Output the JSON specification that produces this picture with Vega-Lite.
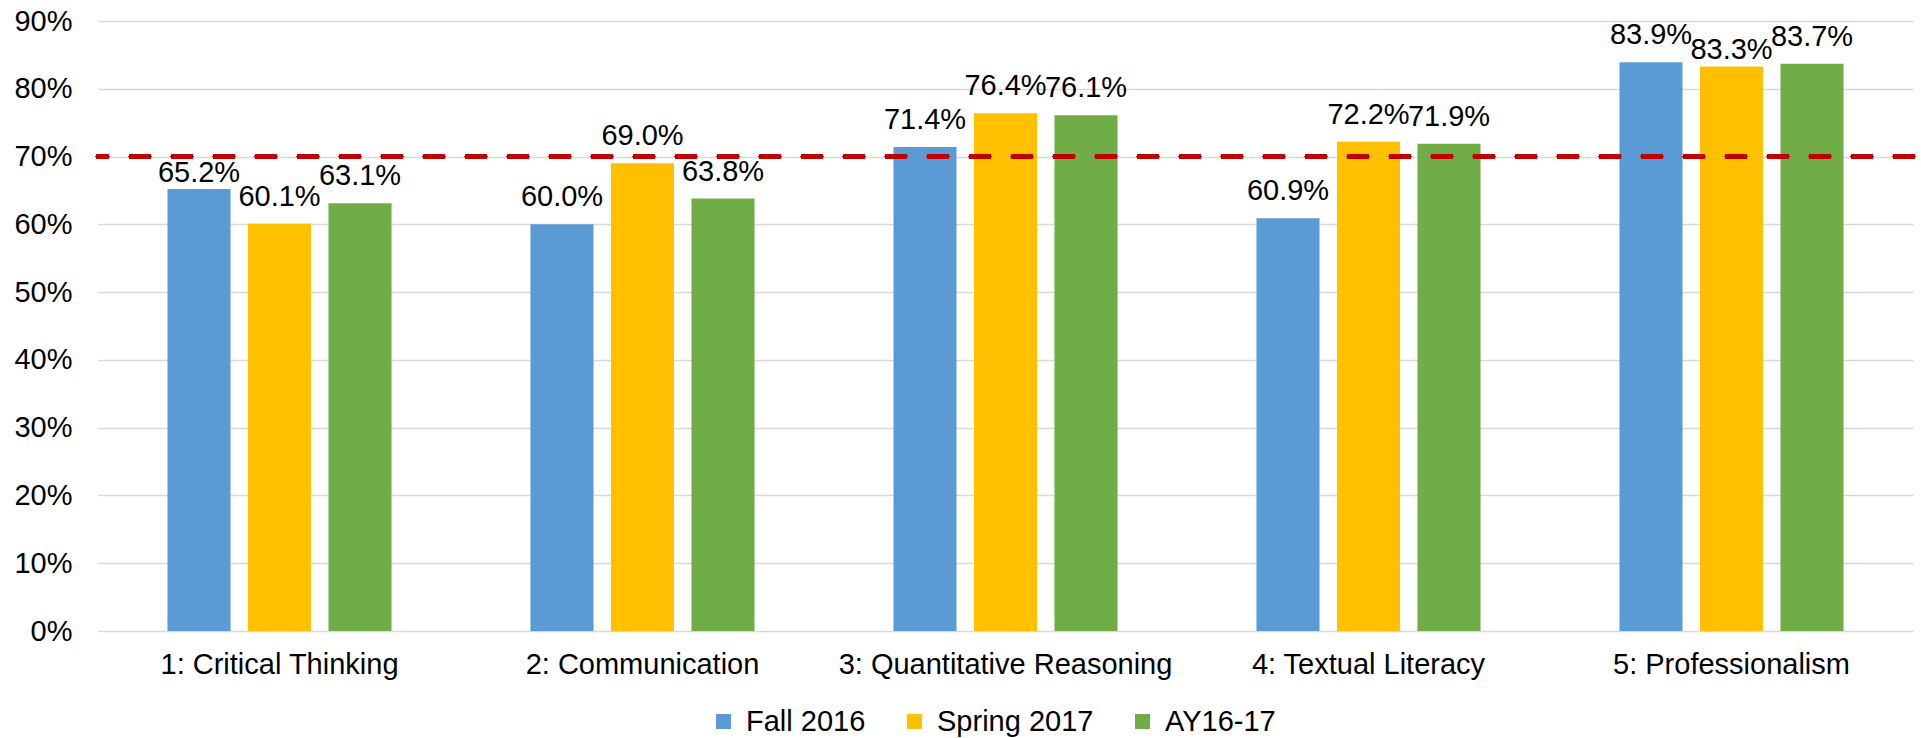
{
  "$schema": "https://vega.github.io/schema/vega-lite/v6.json",
  "width": 1815,
  "height": 610,
  "autosize": {"type": "none"},
  "padding": {"left": 98, "top": 21, "right": 8, "bottom": 107},
  "background": "white",
  "config": {
    "view": {"stroke": null},
    "font": "Liberation Sans",
    "text": {"font": "Liberation Sans"}
  },
  "data": {
    "values": [
      {"outcome": "1: Critical Thinking", "term": "Fall 2016", "value": 0.652},
      {"outcome": "1: Critical Thinking", "term": "Spring 2017", "value": 0.601},
      {"outcome": "1: Critical Thinking", "term": "AY16-17", "value": 0.631},
      {"outcome": "2: Communication", "term": "Fall 2016", "value": 0.600},
      {"outcome": "2: Communication", "term": "Spring 2017", "value": 0.690},
      {"outcome": "2: Communication", "term": "AY16-17", "value": 0.638},
      {"outcome": "3: Quantitative Reasoning", "term": "Fall 2016", "value": 0.714},
      {"outcome": "3: Quantitative Reasoning", "term": "Spring 2017", "value": 0.764},
      {"outcome": "3: Quantitative Reasoning", "term": "AY16-17", "value": 0.761},
      {"outcome": "4: Textual Literacy", "term": "Fall 2016", "value": 0.609},
      {"outcome": "4: Textual Literacy", "term": "Spring 2017", "value": 0.722},
      {"outcome": "4: Textual Literacy", "term": "AY16-17", "value": 0.719},
      {"outcome": "5: Professionalism", "term": "Fall 2016", "value": 0.839},
      {"outcome": "5: Professionalism", "term": "Spring 2017", "value": 0.833},
      {"outcome": "5: Professionalism", "term": "AY16-17", "value": 0.837}
    ]
  },
  "encoding": {
    "x": {
      "field": "outcome", "type": "nominal", "sort": null,
      "scale": {"paddingInner": 0, "paddingOuter": 0},
      "axis": {"title": null, "labelAngle": 0, "labelFontSize": 29, "labelColor": "black", "labelFont": "Liberation Sans", "labelPadding": 19, "labelLimit": 0, "ticks": false, "domain": false}
    },
    "xOffset": {
      "field": "term", "type": "nominal",
      "sort": ["Fall 2016", "Spring 2017", "AY16-17"],
      "scale": {"paddingInner": 0.217, "paddingOuter": 0.863}
    },
    "y": {
      "field": "value", "type": "quantitative",
      "scale": {"domain": [0, 0.9], "nice": false},
      "axis": {"title": null, "format": ".0%", "values": [0, 0.1, 0.2, 0.3, 0.4, 0.5, 0.6, 0.7, 0.8, 0.9], "labelFontSize": 29, "labelColor": "black", "labelFont": "Liberation Sans", "labelPadding": 26, "ticks": false, "domain": false, "gridColor": "#d9d9d9", "gridWidth": 1.5}
    }
  },
  "layer": [
    {
      "mark": {"type": "bar"},
      "encoding": {
        "color": {
          "field": "term", "type": "nominal",
          "scale": {"domain": ["Fall 2016", "Spring 2017", "AY16-17"], "range": ["#5B9BD5", "#FFC000", "#70AD47"]},
          "legend": {
            "title": null, "orient": "none", "direction": "horizontal",
            "legendX": 611, "legendY": 686, "gridAlign": "none",
            "symbolType": "square", "symbolSize": 225, "symbolStrokeWidth": 0,
            "labelFontSize": 29, "labelFont": "Liberation Sans", "labelColor": "black",
            "labelOffset": 8, "columnPadding": 34, "labelLimit": 0
          }
        }
      }
    },
    {
      "mark": {"type": "rule", "color": "#C00000", "strokeWidth": 4.5, "strokeDash": [18, 24], "strokeCap": "round"},
      "encoding": {"y": {"datum": 0.7}, "x": null, "xOffset": null}
    },
    {
      "transform": [{"filter": "!((datum.outcome == '1: Critical Thinking' && datum.term == 'Fall 2016') || (datum.outcome == '5: Professionalism' && datum.term == 'Spring 2017'))"}],
      "mark": {"type": "text", "baseline": "alphabetic", "dy": -18, "fontSize": 29, "color": "black"},
      "encoding": {"text": {"field": "value", "type": "quantitative", "format": ".1%"}}
    },
    {
      "transform": [{"filter": "(datum.outcome == '1: Critical Thinking' && datum.term == 'Fall 2016') || (datum.outcome == '5: Professionalism' && datum.term == 'Spring 2017')"}],
      "mark": {"type": "text", "baseline": "alphabetic", "dy": -7, "fontSize": 29, "color": "black"},
      "encoding": {"text": {"field": "value", "type": "quantitative", "format": ".1%"}}
    }
  ]
}
